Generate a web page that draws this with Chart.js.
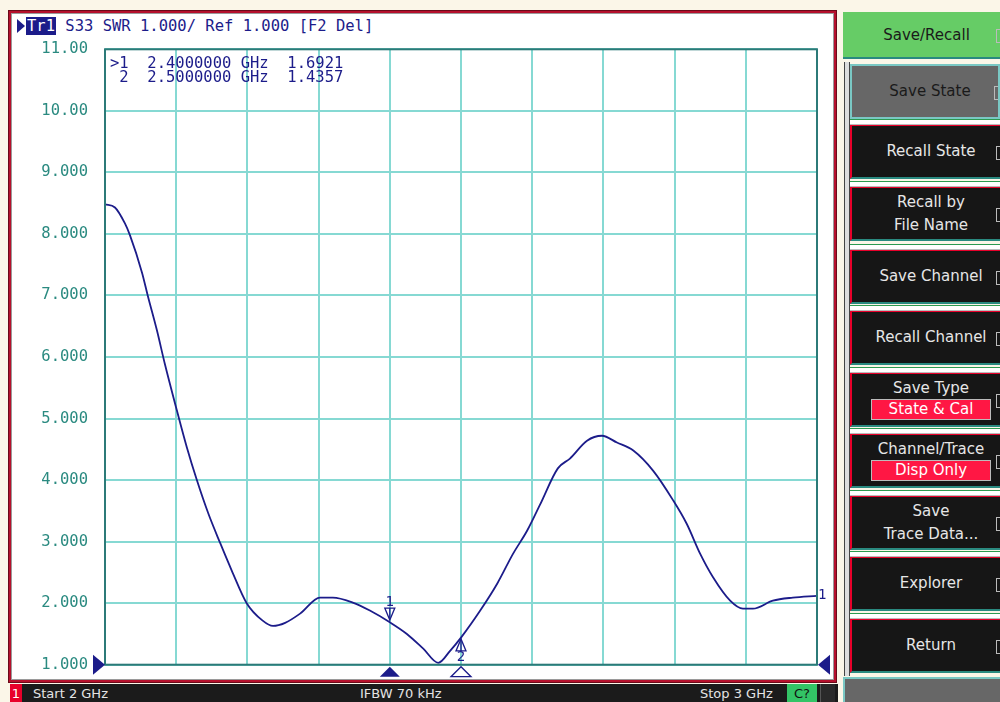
<!DOCTYPE html>
<html>
<head>
<meta charset="utf-8">
<script src="https://cdn.jsdelivr.net/npm/chart.js@4.4.1/dist/chart.umd.min.js"></script>
<style>
  html, body { margin: 0; padding: 0; }
  body { width: 1000px; height: 702px; position: relative; overflow: hidden; background: #fbf6e8; font-family: "DejaVu Sans", sans-serif; }
  .mono { font-family: "DejaVu Sans Mono", monospace; }
  #panel { position: absolute; left: 9px; top: 11px; width: 823px; height: 667px; background: #fff;
           border: 2px solid #b5102c; box-shadow: inset 0 0 0 1px #9a9a9a, 0 0 0 1px #6a0a18; }
  #title { position: absolute; left: 17px; top: 17px; color: #1c1c8a; font-size: 15.5px; white-space: pre; line-height: 18px; }
  #title .tri { display: inline-block; width: 0; height: 0; border-top: 7px solid transparent; border-bottom: 7px solid transparent;
                border-left: 8px solid #1c1c8a; vertical-align: -2px; margin-right: 1px; }
  #title .tr { background: #1c1c8a; color: #fff; padding: 0 1px; }
  #wrap { position: absolute; left: 12px; top: 23px; width: 820px; height: 668px; }
  #readout { position: absolute; left: 110px; top: 56px; color: #1c1c8a; font-size: 15.5px; line-height: 14px; white-space: pre; }
  #status { position: absolute; left: 10px; top: 684px; width: 828px; height: 18px; background: #1b1b1b; color: #e4e4e4; font-size: 13px; }
  #status span { position: absolute; top: 2px; }
  #status .ch { left: 0; top: 0; width: 12px; height: 18px; background: #e8002a; color: #fff; text-align: center; line-height: 20px; }
  #status .cq { left: 777px; top: 0; width: 30px; height: 18px; background: #33c466; color: #111; text-align: center; line-height: 20px; }
  #status .bx { left: 810px; top: 0; width: 14px; height: 18px; background: #2a2a2a; border-left: 1px solid #555; }
  #side { position: absolute; left: 838px; top: 0; width: 162px; height: 702px; background: #fbf6e8; }
  #rail { position: absolute; left: 844px; top: 62px; width: 4px; height: 614px; border-left: 1px solid #444; border-right: 1px solid #444; background: #ddd; }
  .btn { position: absolute; left: 850px; width: 150px; background: #161616; color: #e6e6e6; font-size: 15px; text-align: center;
         box-sizing: border-box; border-top: 2px solid #e8002a; border-left: 2px solid #e8002a; border-bottom: 2px solid #2a8a80;
         padding-left: 10px;
         display: flex; flex-direction: column; justify-content: center; align-items: center; line-height: 23px; }
  .btn::after { content: ""; position: absolute; right: 0; top: 50%; width: 3px; height: 12px; margin-top: -6px; border: 1px solid #bbb; border-right: none; }
  .btn .val { background: #ff1744; color: #fff; width: 118px; margin-left: 0; border: 1px solid #bbb; line-height: 19px; }
  .sep { position: absolute; left: 850px; width: 150px; height: 4px; border-top: 1px solid #2c9a50; border-bottom: 1px solid #bbb; background: #fff; }
</style>
</head>
<body>
<div id="panel"></div>
<div id="title" class="mono"><span class="tri"></span><span class="tr">Tr1</span> S33 SWR 1.000/ Ref 1.000 [F2 Del]</div>
<div id="wrap"><canvas id="chart"></canvas></div>
<div id="readout" class="mono"></div>

<div id="status">
  <span class="ch">1</span>
  <span style="left:23px">Start 2 GHz</span>
  <span style="left:350px">IFBW 70 kHz</span>
  <span style="left:690px">Stop 3 GHz</span>
  <span class="cq">C?</span>
  <span class="bx"></span>
</div>

<div id="side"></div>
<div id="rail"></div>
<div id="buttons"></div>

<script>
// sweep 2 - 3 GHz, S33 SWR trace
const freqs = [2.000, 2.014, 2.028, 2.035, 2.052, 2.060, 2.073, 2.084, 2.101, 2.115,
               2.129, 2.145, 2.162, 2.178, 2.199, 2.221, 2.236, 2.253, 2.274, 2.302,
               2.320, 2.348, 2.372, 2.400, 2.424, 2.447, 2.468, 2.485, 2.500, 2.527,
               2.551, 2.573, 2.593, 2.611, 2.636, 2.653, 2.677, 2.698, 2.719, 2.742,
               2.770, 2.798, 2.817, 2.836, 2.854, 2.878, 2.896, 2.910, 2.938, 2.966, 3.000];
const swr = [8.48, 8.43, 8.17, 7.98, 7.37, 7.00, 6.43, 5.89, 5.13, 4.53,
             4.00, 3.46, 2.97, 2.53, 2.00, 1.72, 1.63, 1.68, 1.83, 2.09,
             2.09, 2.01, 1.88, 1.69, 1.50, 1.26, 1.03, 1.23, 1.44, 1.88,
             2.32, 2.80, 3.18, 3.60, 4.19, 4.35, 4.64, 4.72, 4.61, 4.48,
             4.15, 3.67, 3.29, 2.80, 2.42, 2.04, 1.91, 1.91, 2.04, 2.09, 2.12];

const yTickLabels = ["1.000", "2.000", "3.000", "4.000", "5.000", "6.000",
                     "7.000", "8.000", "9.000", "10.00", "11.00"];

const markerFreqs = [2.4, 2.5];
const markerVals = [1.6921, 1.4357];

const menuItems = ["Save/Recall", "Save State", "Recall State", "Recall by|File Name", "Save Channel",
                   "Recall Channel", "Save Type", "Channel/Trace", "Save|Trace Data...", "Explorer", "Return"];
const menuValues = { "Save Type": "State & Cal", "Channel/Trace": "Disp Only" };

// marker readout lines
document.getElementById("readout").textContent = markerFreqs.map((f, i) =>
  (i === 0 ? ">" : " ") + (i + 1) + "  " + f.toFixed(7) + " GHz  " + markerVals[i].toFixed(4)
).join("\n");

// softkey menu
const tops = [12, 64, 124, 186, 249, 310, 372, 433, 495, 556, 618];
const box = document.getElementById("buttons");
menuItems.forEach((name, i) => {
  const b = document.createElement("div");
  b.className = "btn";
  b.style.top = tops[i] + "px";
  b.style.height = (i === 0 ? 47 : 55) + "px";
  if (i === 0) {
    b.style.left = "843px"; b.style.width = "157px";
    b.style.background = "#66cc66"; b.style.color = "#1a1a1a";
    b.style.border = "none"; b.style.borderBottom = "2px solid #2a8a80";
    b.style.paddingTop = "2px";
  } else if (i === 1) {
    b.style.background = "#676767"; b.style.color = "#1a1a1a";
    b.style.border = "2px solid #7ac8c4";
  }
  name.split("|").forEach(t => {
    const s = document.createElement("div");
    s.textContent = t;
    b.appendChild(s);
  });
  if (menuValues[name]) {
    const v = document.createElement("div");
    v.className = "val";
    v.textContent = menuValues[name];
    b.appendChild(v);
    b.style.justifyContent = "flex-start";
    b.style.lineHeight = "22px";
    b.style.paddingTop = "3px";
  }
  box.appendChild(b);
  if (i > 1) {
    const s = document.createElement("div");
    s.className = "sep";
    s.style.top = (tops[i] - 5) + "px";
    box.appendChild(s);
  }
});
const foot = document.createElement("div");
foot.style.cssText = "position:absolute;left:843px;top:677px;width:157px;height:25px;background:#676767;border-top:2px solid #7ac8c4;border-left:2px solid #7ac8c4;box-sizing:border-box;";
box.appendChild(foot);

const navy = "#1c1c8a";
const gridTeal = "#86d9d3";
const frameTeal = "#2c7a78";

const vnaMarks = {
  id: "vnaMarks",
  afterDatasetsDraw(chart) {
    const { ctx, chartArea: a, scales: { x, y } } = chart;
    ctx.save();
    ctx.strokeStyle = frameTeal;
    ctx.lineWidth = 2;
    ctx.strokeRect(a.left, a.top, a.right - a.left, a.bottom - a.top);

    const y0 = y.getPixelForValue(1);
    ctx.fillStyle = navy;
    ctx.strokeStyle = navy;
    ctx.lineWidth = 1.3;

    // reference level arrows
    ctx.beginPath();
    ctx.moveTo(a.left - 12, y0 - 10); ctx.lineTo(a.left, y0); ctx.lineTo(a.left - 12, y0 + 10);
    ctx.closePath(); ctx.fill();
    ctx.beginPath();
    ctx.moveTo(a.right + 13, y0 - 10); ctx.lineTo(a.right + 1, y0); ctx.lineTo(a.right + 13, y0 + 10);
    ctx.closePath(); ctx.fill();

    ctx.font = "14px 'DejaVu Sans Mono', monospace";
    ctx.textAlign = "center";
    markerFreqs.forEach((f, i) => {
      const px = x.getPixelForValue(f);
      const py = y.getPixelForValue(markerVals[i]);
      ctx.beginPath();
      if (i === 0) {
        // active marker: down triangle above the trace
        ctx.moveTo(px - 5, py - 14); ctx.lineTo(px + 5, py - 14); ctx.lineTo(px, py - 2);
        ctx.closePath(); ctx.stroke();
        ctx.beginPath(); ctx.moveTo(px, py - 14); ctx.lineTo(px, py - 4); ctx.stroke();
        ctx.textBaseline = "bottom";
        ctx.fillText(String(i + 1), px, py - 13);
      } else {
        ctx.moveTo(px - 5, py + 13); ctx.lineTo(px + 5, py + 13); ctx.lineTo(px, py + 1);
        ctx.closePath(); ctx.stroke();
        ctx.beginPath(); ctx.moveTo(px, py + 3); ctx.lineTo(px, py + 13); ctx.stroke();
        ctx.textBaseline = "top";
        ctx.fillText(String(i + 1), px, py + 12);
      }
      // marker flags under the axis
      ctx.beginPath();
      ctx.moveTo(px - 10, y0 + 12); ctx.lineTo(px + 10, y0 + 12); ctx.lineTo(px, y0 + 2);
      ctx.closePath();
      if (i === 0) ctx.fill(); else ctx.stroke();
    });

    // trace number at the right end
    ctx.textAlign = "left";
    ctx.textBaseline = "middle";
    ctx.fillText("1", a.right + 1, y.getPixelForValue(swr[swr.length - 1]));
    ctx.restore();
  }
};

const ctx = document.getElementById("chart").getContext("2d");
window.myChart = new Chart(ctx, {
  type: "line",
  data: {
    datasets: [{
      label: "S33 SWR",
      data: freqs.map((f, i) => ({ x: f, y: swr[i] })),
      borderColor: navy,
      borderWidth: 1.8,
      pointRadius: 0,
      cubicInterpolationMode: "monotone",
      fill: false
    }]
  },
  options: {
    responsive: true,
    maintainAspectRatio: false,
    animation: false,
    layout: { padding: { top: 9, right: 15, left: 0, bottom: 0 } },
    plugins: { legend: { display: false }, tooltip: { enabled: false } },
    scales: {
      x: {
        type: "linear",
        min: 2, max: 3,
        ticks: { stepSize: 0.1, display: false },
        grid: { color: gridTeal, lineWidth: 2, drawTicks: false },
        border: { display: false },
        afterFit: (s) => { s.height = 16; }
      },
      y: {
        min: 1, max: 11,
        ticks: {
          stepSize: 1,
          padding: 17,
          color: "#2a8a80",
          font: { family: "'DejaVu Sans Mono', monospace", size: 15.5 },
          callback: (v) => yTickLabels[Math.round(v) - 1]
        },
        grid: { color: gridTeal, lineWidth: 2, drawTicks: false },
        border: { display: false },
        afterFit: (s) => { s.width = 93; }
      }
    }
  },
  plugins: [vnaMarks]
});
</script>
</body>
</html>
